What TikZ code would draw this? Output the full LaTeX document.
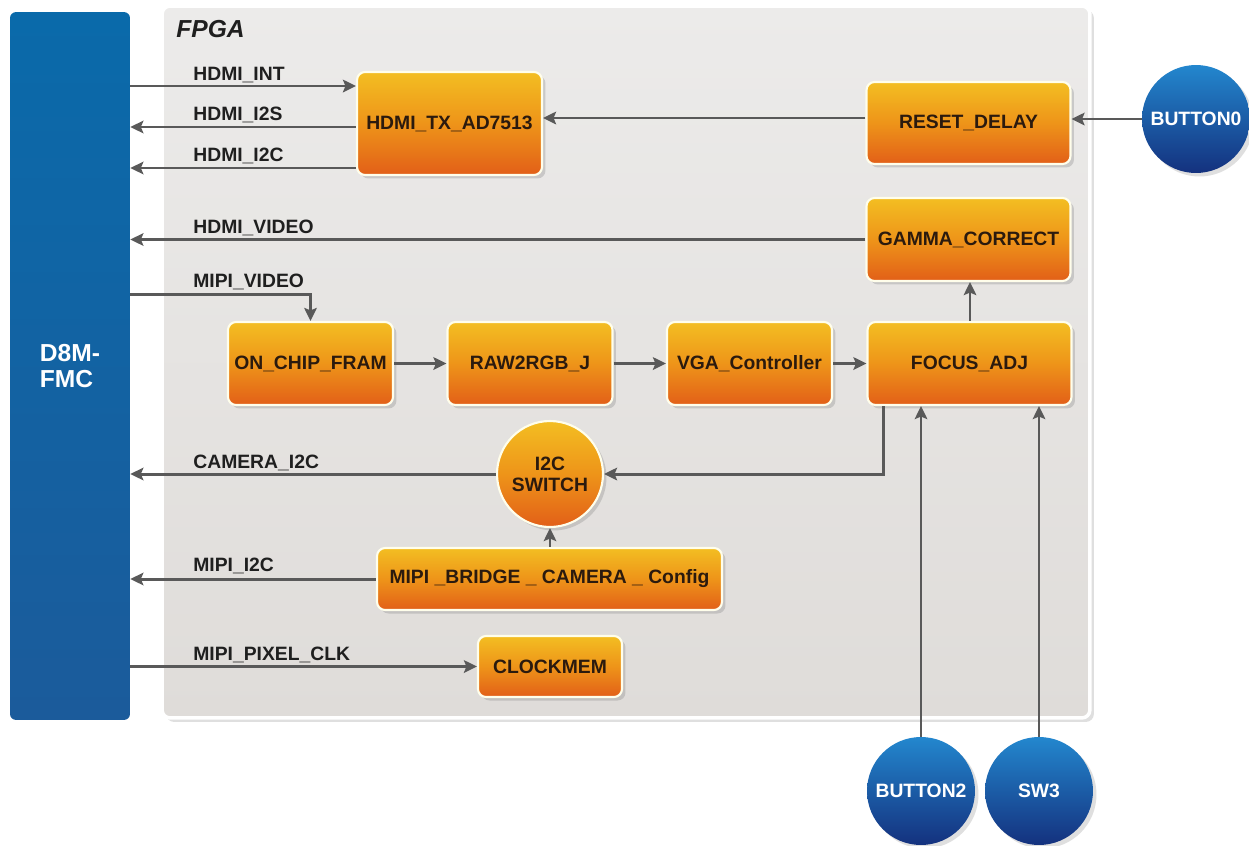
\documentclass[tikz,border=0pt]{standalone}
\usepackage{fontspec}
\setmainfont{Liberation Sans}
\usetikzlibrary{arrows.meta,shadows}
\definecolor{boxtop}{HTML}{F3BE22}
\definecolor{boxmid}{HTML}{EE9419}
\definecolor{boxbot}{HTML}{E25F18}
\definecolor{boxtext}{HTML}{2B1A0E}
\definecolor{btntop}{HTML}{2387CE}
\definecolor{btnbot}{HTML}{14317E}
\definecolor{fmctop}{HTML}{0A6AAA}
\definecolor{fmcbot}{HTML}{1B5B9B}
\definecolor{wire}{HTML}{595959}
\definecolor{paneltop}{HTML}{ECEBEA}
\definecolor{panelbot}{HTML}{DFDCD9}
\tikzstyle{block} = [
  rectangle,
  rounded corners=0.16cm,
  draw=white!92!yellow,
  line width=1.2pt,
  top color=boxtop,
  bottom color=boxbot,
  middle color=boxmid,
  drop shadow={opacity=0.3, shadow xshift=0.07cm, shadow yshift=-0.07cm},
  text=boxtext,
  font=\fontsize{11}{13}\selectfont\bfseries,
  inner sep=0pt,
  align=center,
]
\tikzstyle{switchc} = [
  block,
  circle,
  minimum size=2.12cm,
]
\tikzstyle{btn} = [
  circle,
  top color=btntop,
  bottom color=btnbot,
  drop shadow={opacity=0.25, shadow xshift=0.07cm, shadow yshift=-0.07cm},
  text=white,
  font=\fontsize{11}{13}\selectfont\bfseries,
  inner sep=0pt,
  minimum size=2.16cm,
]
\tikzstyle{sig} = [
  font=\fontsize{11}{13}\selectfont\bfseries,
  text=black!88,
  inner sep=0pt,
  anchor=base west,
]
\tikzstyle{arr} = [
  draw=wire,
  line width=1.7pt,
  -{Stealth[length=0.26cm, width=0.25cm, inset=0.05cm]},
]

\begin{document}
\begin{tikzpicture}[x=0.02cm, y=-0.02cm]
      \useasboundingbox[fill=white] (0,0) rectangle (1249,846);

      % Panels
      \node[rectangle, rounded corners=0.16cm, draw=white, line width=2pt,
            top color=paneltop, bottom color=panelbot,
            drop shadow={opacity=0.25, shadow xshift=0.08cm, shadow yshift=-0.08cm},
            minimum width=18.56cm, minimum height=14.24cm] (fpga) at (626,362) {};
      \node[sig, font=\fontsize{14}{16}\selectfont\bfseries\itshape] (fpgalbl) at (176,37) {FPGA};
      \node[rectangle, rounded corners=0.12cm, top color=fmctop, bottom color=fmcbot,
            text=white, font=\fontsize{14}{14.5}\selectfont\bfseries, align=left,
            minimum width=2.4cm, minimum height=14.16cm] (fmc) at (70,366) {D8M-\\FMC};

      % Blocks
      \node[block, minimum width=3.7cm, minimum height=2.06cm] (hdmitx) at (449.5,123.5) {HDMI\_TX\_AD7513};
      \node[block, minimum width=4.08cm, minimum height=1.64cm] (reset) at (968.5,123) {RESET\_DELAY};
      \node[block, minimum width=4.08cm, minimum height=1.66cm] (gamma) at (968.5,239.5) {GAMMA\_CORRECT};
      \node[block, minimum width=3.3cm, minimum height=1.66cm] (onchip) at (310.5,363.5) {ON\_CHIP\_FRAM};
      \node[block, minimum width=3.3cm, minimum height=1.66cm] (raw) at (530,363.5) {RAW2RGB\_J};
      \node[block, minimum width=3.3cm, minimum height=1.66cm] (vga) at (749.5,363.5) {VGA\_Controller};
      \node[block, minimum width=4.08cm, minimum height=1.66cm] (focus) at (969.5,363.5) {FOCUS\_ADJ};
      \node[switchc] (i2c) at (550,474) {I2C\\[-1pt]SWITCH};
      \node[block, minimum width=6.9cm, minimum height=1.24cm] (bridge) at (549.5,579) {MIPI \_BRIDGE \_ CAMERA \_ Config};
      \node[block, minimum width=2.88cm, minimum height=1.22cm] (clockmem) at (550,666.5) {CLOCKMEM};

      % Buttons
      \node[btn] (button0) at (1196,119) {BUTTON0};
      \node[btn] (button2) at (921,791) {BUTTON2};
      \node[btn] (sw3) at (1039,791) {SW3};

      % Signals to and from D8M-FMC
      \draw[arr] (fmc.east |- 0,86) -- (hdmitx.west |- 0,86);
      \draw[arr] (hdmitx.west |- 0,127) -- (fmc.east |- 0,127);
      \draw[arr] (hdmitx.west |- 0,168) -- (fmc.east |- 0,168);
      \draw[arr] (gamma.west) -- (fmc.east |- gamma.west);
      \draw[arr] (fmc.east |- 0,294) -| (onchip.north);
      \draw[arr] (i2c.west) -- (fmc.east |- i2c.west);
      \draw[arr] (bridge.west) -- (fmc.east |- bridge.west);
      \draw[arr] (fmc.east |- clockmem.west) -- (clockmem.west);

      % Inside FPGA
      \draw[arr] (reset.west |- 0,118) -- (hdmitx.east |- 0,118);
      \draw[arr] (onchip) -- (raw);
      \draw[arr] (raw) -- (vga);
      \draw[arr] (vga) -- (focus);
      \draw[arr] (focus.north -| 970,0) -- (gamma.south -| 970,0);
      \draw[arr] ([xshift=0.35cm]focus.south west) |- (i2c.east);
      \draw[arr] (bridge.north -| i2c) -- (i2c.south);

      % Buttons to logic
      \draw[arr] (button0.west) -- (reset.east |- button0.west);
      \draw[arr] (button2.north) -- (button2.north |- focus.south);
      \draw[arr] (sw3.north) -- (sw3.north |- focus.south);

      % Labels
      \node[sig] (lint) at (193,80) {HDMI\_INT};
      \node[sig] (li2s) at (193,120) {HDMI\_I2S};
      \node[sig] (li2c) at (193,161) {HDMI\_I2C};
      \node[sig] (lvideo) at (193,233) {HDMI\_VIDEO};
      \node[sig] (lmipi) at (193,287) {MIPI\_VIDEO};
      \node[sig] (lcam) at (193,468) {CAMERA\_I2C};
      \node[sig] (lmipii2c) at (193,571) {MIPI\_I2C};
      \node[sig] (lclk) at (193,660) {MIPI\_PIXEL\_CLK};
    \end{tikzpicture}
\end{document}
